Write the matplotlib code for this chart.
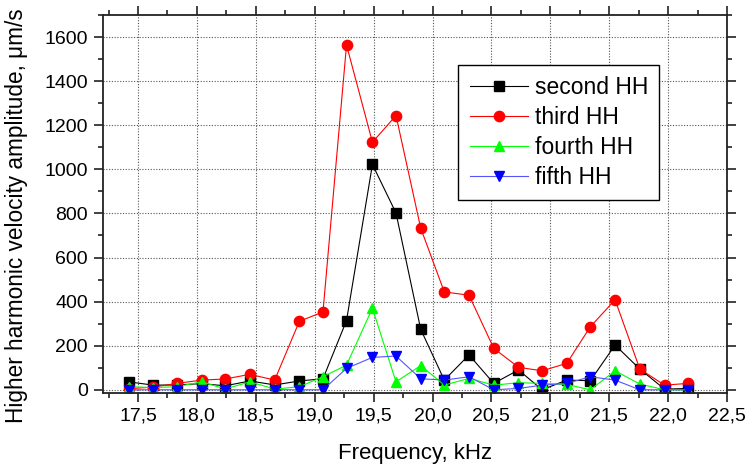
import matplotlib
matplotlib.use("Agg")
import matplotlib.pyplot as plt
from matplotlib.ticker import MultipleLocator, FuncFormatter

plt.rcParams['font.family'] = ['Liberation Sans', 'DejaVu Sans']

freq = [17.42, 17.63, 17.83, 18.04, 18.24, 18.45, 18.66, 18.87, 19.07, 19.27,
        19.49, 19.69, 19.90, 20.10, 20.31, 20.52, 20.73, 20.93, 21.14, 21.34,
        21.55, 21.76, 21.97, 22.17]

second_hh = [36, 21, 22, 28, 18, 40, 22, 40, 50, 314,
             1022, 802, 274, 44, 158, 29, 90, 0, 44, 41,
             203, 94, 3, 6]
third_hh = [5, 12, 29, 44, 49, 70, 44, 311, 353, 1564,
            1123, 1244, 733, 444, 429, 188, 102, 86, 120, 286,
            408, 94, 21, 29]
fourth_hh = [14, 10, 14, 36, 4, 36, 3, 14, 59, 112,
             370, 36, 110, 21, 52, 21, 32, 29, 24, 0,
             86, 26, 0, 0]
fifth_hh = [0, 0, 0, 0, 0, 0, 0, 0, 0, 97,
            147, 153, 50, 44, 59, 0, 6, 21, 29, 59,
            44, 0, 0, 0]

labels = ['second HH', 'third HH', 'fourth HH', 'fifth HH']

fig = plt.figure(figsize=(7.48, 4.68), dpi=100)
ax = fig.add_axes([0.1373, 0.1596, 0.8346, 0.8083])

ax.plot(freq, second_hh, color='black', lw=0.8, marker='s', ms=6.8,
        mfc='black', mec='black', label=labels[0])
ax.plot(freq, third_hh, color='red', lw=0.8, marker='o', ms=7.4,
        mfc='red', mec='red', label=labels[1])
ax.plot(freq, fourth_hh, color='#00ff00', lw=0.8, marker='^', ms=7.8,
        mfc='#00ff00', mec='#00ff00', label=labels[2])
ax.plot(freq, fifth_hh, color='#5555ff', lw=0.8, marker='v', ms=7.8,
        mfc='blue', mec='blue', label=labels[3])

ax.set_xlim(17.2, 22.5)
ax.set_ylim(-16, 1700)

ax.xaxis.set_major_locator(MultipleLocator(0.5))
ax.xaxis.set_minor_locator(MultipleLocator(0.25))
ax.yaxis.set_major_locator(MultipleLocator(200))
ax.yaxis.set_minor_locator(MultipleLocator(100))
ax.xaxis.set_major_formatter(FuncFormatter(lambda v, p: f"{v:.1f}".replace('.', ',')))
ax.yaxis.set_major_formatter(FuncFormatter(lambda v, p: f"{int(round(v))}"))

ax.tick_params(which='both', direction='out', top=True, right=True,
               labeltop=False, labelright=False, width=1.2, colors='#222222')
ax.tick_params(which='major', length=6.5, labelsize=14, labelcolor='black', pad=4)
ax.tick_params(which='minor', length=3.6)
for sp in ax.spines.values():
    sp.set_linewidth(1.3)
    sp.set_color('#222222')

ax.grid(True, which='major', color='#555555', linestyle=(0, (1, 1.5)), lw=0.8)
ax.set_axisbelow(True)

ax.set_xlabel('Frequency, kHz', fontsize=16, labelpad=13)
ax.set_ylabel('Higher harmonic velocity amplitude, \u03bcm/s', fontsize=16.3)
ax.yaxis.set_label_coords(-0.12, 0.47)

leg = ax.legend(loc='upper left', bbox_to_anchor=(0.5696, 0.868), borderaxespad=0,
                fontsize=16.5, handlelength=2.55, handletextpad=0.28,
                labelspacing=0.3, borderpad=0.5, fancybox=False, framealpha=1,
                edgecolor='black')
leg.get_frame().set_linewidth(1.0)

fig.savefig('out.png', dpi=100)
